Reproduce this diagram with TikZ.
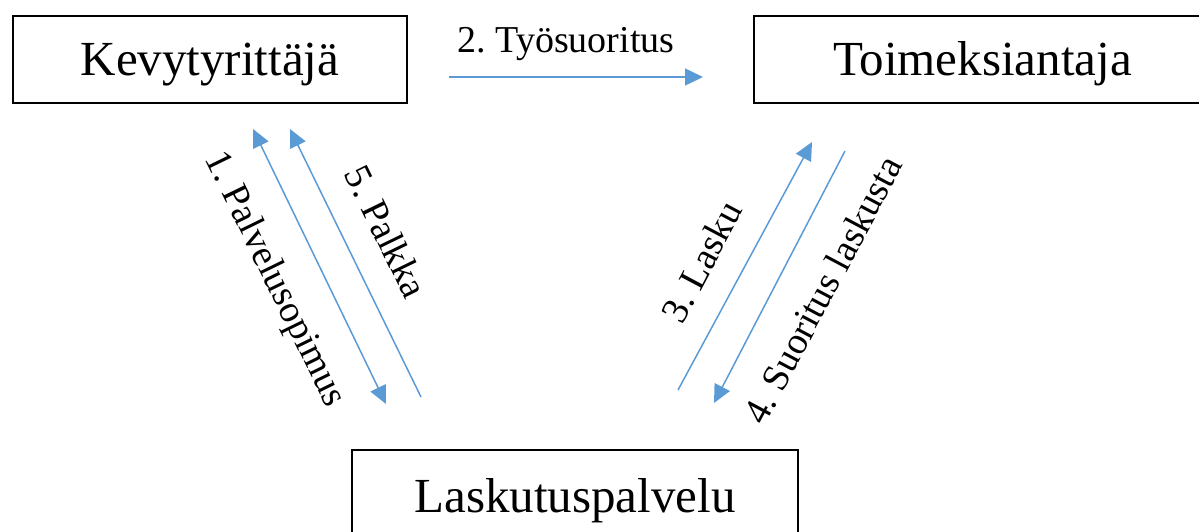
\documentclass[tikz,border=0pt]{standalone}
\usepackage{fontspec}
\setmainfont{Liberation Serif}
\usetikzlibrary{arrows.meta}
\definecolor{arrowblue}{HTML}{5B9BD5}
\frenchspacing
\tikzset{
  box/.style={draw=black, line width=2pt, rectangle, inner sep=0pt,
    font=\fontsize{49}{58}\selectfont, text height=32pt, text depth=0pt},
  lbl/.style={inner sep=0pt, font=\fontsize{38}{45}\selectfont, text height=25pt, text depth=0pt},
  flow/.style={draw=arrowblue, line width=1.5pt},
  tip/.style={-{Triangle[length=18pt,width=17pt]}},
  bothtips/.style={{Triangle[length=18pt,width=17pt]}-{Triangle[length=18pt,width=17pt]}}
}
\begin{document}
\begin{tikzpicture}[x=1pt,y=-1pt]
\useasboundingbox (0,0) rectangle (1199,531);
\node[box, minimum width=394pt, minimum height=87pt] (kevyt) at (210,59.5) {Kevytyrittäjä};
\node[box, minimum width=457pt, minimum height=87pt] (toim) at (982.5,59.5) {Toimeksiantaja};
\node[box, minimum width=446pt, minimum height=92pt] (lask) at (575,496) {Laskutuspalvelu};

% top arrow
\coordinate (a2s) at (449,77);
\coordinate (a2e) at (703,77);
\draw[flow, tip] (a2s) -- (a2e);
\node[lbl] (l2) at (566,40) {2. Työsuoritus};

% left pair
\coordinate (a1s) at (386,404);
\coordinate (a1e) at (253,129);
\draw[flow, bothtips] (a1s) -- (a1e);
\coordinate (a5s) at (421,397);
\coordinate (a5e) at (290,129);
\draw[flow, tip] (a5s) -- (a5e);
\node[lbl, rotate=-64] (l1) at (277,278) {1. Palvelusopimus};
\node[lbl, rotate=-64] (l5) at (386,232) {5. Palkka};

% right pair
\coordinate (a3s) at (678,390);
\coordinate (a3e) at (812,142);
\draw[flow, tip] (a3s) -- (a3e);
\coordinate (a4s) at (845,151);
\coordinate (a4e) at (714,403);
\draw[flow, tip] (a4s) -- (a4e);
\node[lbl, rotate=62] (l3) at (702,262) {3. Lasku};
\node[lbl, rotate=62] (l4) at (823,290) {4. Suoritus laskusta};
\end{tikzpicture}
\end{document}
